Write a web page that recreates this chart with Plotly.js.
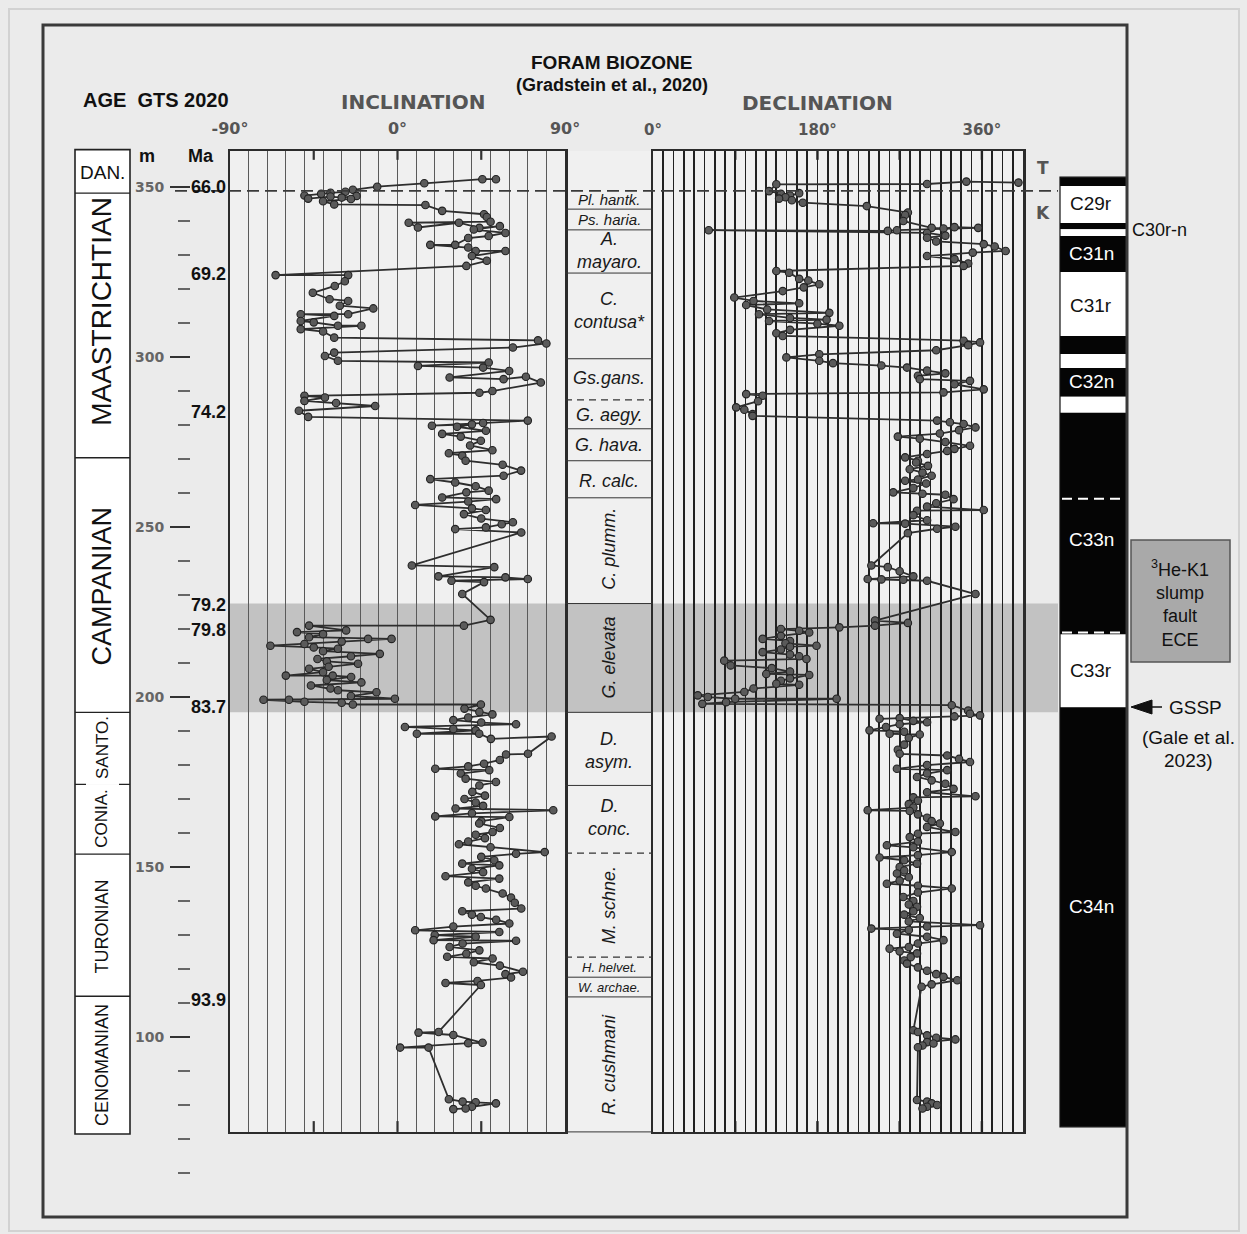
<!DOCTYPE html>
<html><head><meta charset="utf-8">
<script src="https://cdn.plot.ly/plotly-3.0.1.min.js"></script>
<style>body{margin:0;background:#ebebeb;}#chart{width:1247px;height:1234px;}</style>
</head><body><div id="chart"></div>
<script>
// ---------------- DATA ----------------
// Inclination: [depth m, inclination deg], in stratigraphic order (top to bottom)
const incPoints = [
[352.3,52.9],[352.3,45.6],[351.1,14.4],[350.1,-10.9],[349.2,-24],[348.6,-28],[348.3,-36],[348.0,-41],[347.5,-50],[346.6,-48],[347.2,-36],[346.9,-30],[347.4,-22],[346.5,-25],[345.8,-40],[344.9,-34],
[344.7,15],[343.0,24],[342.0,46.5],[341.2,48],[339.8,50],[339.5,6],[338.1,11],[339.5,33],[338.0,44],[338.5,55],[337.5,41],[336.5,58],[335.6,49],[335.0,38],[333.0,31],[333.0,17.6],[332.2,38],[331.2,42],[331.2,58],[329.7,40],[328.3,48],[326.8,37],
[324.1,-65.5],[324.1,-26.5],[322.3,-28.3],[320.9,-33.7],[318.9,-45.5],[317.0,-36.5],[316.5,-26.5],[315.1,-31],[314.3,-13],[312.6,-26.5],[312.6,-52],[312.1,-34],[310.6,-52],[310.2,-45],[309.2,-32],[309.2,-19.4],[308.2,-52],[307.5,-40],[305.7,-34],
[304.9,75.5],[304.0,80],[302.8,62],[301.3,-34],[300.3,-39],[298.9,-32],[298.4,49],[297.4,11],[296.9,46],[295.9,60],[294.0,28],[293.5,57],[294.2,69],[292.5,77],[290.0,51],[289.5,44],
[288.6,-50],[288.1,-39],[287.1,-50],[286.5,-33],[285.6,-12],[284.2,-53],[282.4,-48],
[281.3,70],[280.6,46],[279.8,18.5],[280.2,40],[279.5,32],[278.3,47.5],[277.4,24],[276.6,34],[275.4,44.8],[274.0,39],[272.6,51],[271.7,27.6],[271.0,34.8],[269.5,36.6],[268.3,56.5],[266.6,66.4],[265.1,57],[264.1,17.6],[263.1,31],[262.0,42],[260.7,49],[260.2,37],[258.7,24],[258.2,53],[257.5,38],[256.5,9.5],[255.5,40],[255.0,47.5],[253.8,35.7],[252.5,45],[251.4,62],[250.8,56],[249.9,47.5],[249.4,31],[248.4,66.5],
[238.7,7.7],[238.2,52],[235.5,22],[235.2,58],[234.7,70],[234.2,29],[233.8,46.5],[230.3,34.8],[222.7,50],[221.0,35.7],
[221.0,-47.5],[219.6,-27.6],[219.1,-54],[218.5,-40],[217.6,-47.5],[217.1,-15.8],[217.1,-3.2],[216.3,-30],[215.6,-50],[215.1,-68.3],[214.6,-45],[214.2,-32],[213.5,-40],[212.7,-9.5],[212.0,-25],[211.2,-43],[210.5,-38],[209.8,-21.2],[208.9,-37],[208.3,-47.5],[207.3,-40],[206.3,-60],[206.3,-34.8],[205.9,-24.9],[205.0,-38],[204.3,-19.4],[203.4,-46.5],[202.5,-36],[202.0,-32],[201.4,-11.3],[200.3,-25],[199.5,-1.4],[199.2,-58.3],[199.2,-72],[198.6,-50],[198.3,-30],[197.8,-24],
[197.8,44.8],[196.6,36],[195.6,44],[194.9,51],[194.0,38],[193.2,30],[192.5,45],[192.0,63.7],[191.2,4],[190.6,30],[190.2,42],[189.2,10.4],[189.2,43.9],[187.7,50.2],[188.4,82.8],
[183.3,70.1],[183.1,58.3],[181.5,55],[180.4,46.5],[179.6,38],[178.9,20.3],[178.5,49.3],[177.5,34],[176.0,36.6],[175.0,52.9],[174.0,44],[172.1,40.2],[171.0,47],[170.0,36],[169.0,42],[168.0,46],[167.2,31.2],[166.7,83.7],[165.8,40],[164.9,20.3],[164.7,60.1],[163.5,45],[162.8,43.9],[161.5,55],[160.3,51.1],[159.5,42],[158.5,47],[157.5,38],[156.7,33],[155.8,50],[154.4,79.1],[153.9,63.7],[153.0,45],[152.0,52],[151.0,34.8],[150.5,54.7],[149.5,40],[148.5,46],[147.3,25.8],[146.6,54.7],[145.5,38],[144.5,42],[143.7,47.5],[142.2,56.5],[141.0,61],[139.5,63],[137.8,66.5],[137.0,34.8],[136.0,40],[135.3,44.8],[134.5,53],[133.4,60.1],[132.5,30],[131.4,9.5],[130.9,54.7],[130.0,20],[129.5,42],[128.5,19.4],[128.3,63.7],[127.5,35],[126.5,28],[125.5,44],[124.5,37],[123.6,26.7],[123.1,51.1],[122.0,41],[121.0,55],[119.2,67.4],[118.5,58],[117.5,61],[116.5,43],[115.9,25.8],[115.3,44.8],
[101.5,22.1],[101.3,11.3],[100.6,30],[98.3,45.7],[98.2,38],[96.9,1.4],[96.9,16.7],
[81.7,27.6],[81.0,35],[80.8,42],[80.5,52.9],[79.5,40],[79.0,36.6],[78.8,30]
];
// Declination: [depth m, declination deg]
const decPoints = [
[351.3,400],[351.6,343],[350.9,300],[350.8,135],[348.8,127],[348.0,140],[347.5,150],[348.2,160],[347.0,145],[346.6,138],[346.1,152],[345.4,164],[344.4,234],[342.5,279],[341.8,276],[340.0,274],[338.0,305],[337.8,318],[338.2,330],[338.0,356],[337.3,267],[337.1,257],[337.3,61],[336.5,300],[335.7,320],[335.1,300],[334.0,310],[333.2,362],[332.5,374],[331.2,386],[330.7,350],[329.7,300],[328.8,330],[327.5,345],[326.8,340],
[325.3,135],[324.8,149],[323.0,160],[322.5,170],[321.4,182],[320.5,165],[319.4,142],[317.5,89],[316.5,110],[315.8,160],[315.3,102],[314.0,125],[313.0,193],[312.6,116],[311.5,150],[311.0,190],[310.6,127],[309.8,180],[309.2,204],[308.0,150],[307.0,135],[306.2,142],
[304.8,340],[304.3,358],[303.5,345],[302.0,310],[300.8,182],[299.9,146],[298.9,182],[298.2,197],[297.5,250],[296.9,278],[296.0,300],[295.2,320],[294.5,290],[293.5,292],[293.0,347],[292.0,330],[290.5,362],[289.6,318],
[289.1,102],[288.6,120],[287.0,115],[285.2,91],[284.5,100],[283.2,109],[282.7,109],
[281.3,311],[280.8,325],[280.3,340],[279.3,353],[278.5,335],[277.5,314],[276.6,268],[276.0,292],[275.0,320],[273.9,347],[273.0,330],[272.4,322],[271.5,300],[270.5,276],[269.5,290],[269.0,288],[268.0,301],[267.0,281],[266.0,295],[265.1,305],[264.0,290],[263.6,276],[262.8,299],[261.5,285],[260.2,263],[259.8,295],[259.5,320],[258.2,329],[257.0,310],[256.0,300],[255.0,362],[254.8,289],[253.5,285],[252.0,300],[251.1,241],[251.0,276],[250.1,331],[249.5,311],[248.2,279],
[238.7,239],[238.2,257],[237.0,270],[235.5,285],[234.7,235],[234.6,250],[234.5,274],[234.2,300],[230.3,353],[222.5,243],[221.8,279],[221.0,243],
[220.5,204],[220.0,140],[219.5,160],[219.0,171],[218.0,140],[217.1,120],[216.5,150],[215.8,145],[215.1,179],[214.8,150],[214.0,140],[213.2,120],[212.5,150],[212.0,160],[211.2,168],[210.7,78],[209.3,85],[208.5,130],[207.5,150],[206.8,124],[206.5,171],[205.5,150],[204.8,140],[203.9,135],[203.6,160],[202.5,110],[201.5,100],[200.5,49],[200.0,60],[199.5,90],[199.5,201],[198.5,80],[198.0,54],
[197.6,327],[196.0,345],[195.1,347],[194.6,358],[194.3,330],[193.6,248],[193.8,270],[193.0,285],[192.6,300],[192.0,270],[191.2,255],[190.2,237],[189.8,275],[189.2,259],[189.0,292],[188.0,280],[186.0,275],[184.5,268],[183.3,270],[182.8,322],[181.8,335],[180.9,347],[180.0,300],[178.9,267],[178.5,322],[177.5,300],[176.5,289],[175.5,305],[174.5,320],[173.0,329],[172.0,300],[170.8,353],[170.5,285],[169.5,290],[168.5,280],[167.5,285],[166.7,235],[166.5,281],[165.5,290],[164.5,300],[163.5,305],[162.8,314],[161.8,300],[160.3,331],[159.8,290],[158.8,281],[157.5,290],[156.4,256],[155.8,285],[154.4,327],[153.5,290],[152.8,248],[152.0,275],[151.0,289],[150.0,270],[149.0,275],[148.1,267],[147.0,280],[146.0,270],[145.1,256],[144.5,290],[143.7,327],[142.5,290],[141.2,274],[140.0,285],[139.0,280],[138.3,289],[137.0,285],[136.0,275],[135.0,292],[134.0,280],[132.9,358],[132.5,300],[131.9,239],[131.5,280],[130.4,267],[129.5,300],[128.5,318],[127.5,290],[126.5,280],[126.0,259],[125.2,270],[124.6,289],[123.5,282],[122.5,275],[121.6,278],[120.5,290],[119.5,300],[118.5,310],[117.7,318],[116.7,333],[115.5,305],[114.8,294],
[102.0,285],[101.5,290],[100.5,300],[99.8,310],[99.3,331],[98.5,300],[98.1,307],[97.5,295],[97.0,290],
[81.5,289],[81.0,300],[80.5,305],[80.0,311],[79.5,300],[79.0,295]
];

// Depth axis ticks (m)
const depthTickVals = [100,150,200,250,300,350];
const depthTickText = ['100','150','200','250','300','350'];

// Age labels (Ma) and their depths (m)
const maLabels = ['66.0','69.2','74.2','79.2','79.8','83.7','93.9'];
const maDepths = [350.0,324.4,283.9,227.2,219.6,197.0,110.9];

// Stages
const stageNames = ['DAN.','MAASTRICHTIAN','CAMPANIAN','SANTO.','CONIA.','TURONIAN','CENOMANIAN'];
const stageTops  = [361.0,348.2,270.4,195.5,174.3,153.8,112.0];
const stageBases = [348.2,270.4,195.5,174.3,153.8,112.0,71.5];
const stageLabelDepths = [354.2,313.3,232.5,185.0,164.2,132.5,91.8];
const stageFontSizes = [19,28,27,17,17,18,18];
const stageDashedBase = [false,false,false,true,false,false,false];

// Foram biozones
const zoneNames = ['Pl. hantk.','Ps. haria.','A.<br>mayaro.','C.<br>contusa*','Gs.gans.','G. aegy.','G. hava.','R. calc.','C. plumm.','G. elevata','D.<br>asym.','D.<br>conc.','M. schne.','H. helvet.','W. archae.','R. cushmani'];
const zoneLabelDepths = [346.2,340.6,331.2,313.6,293.9,283.0,274.2,263.6,243.6,211.6,184.3,164.6,138.8,120.6,114.7,91.8];
const zoneRotated = [false,false,false,false,false,false,false,false,true,true,false,false,true,false,false,true];
const zoneFontSizes = [15,15,18,18,18,18,18,18,18,18,18,18,18,13,13,18];
const zoneBounds = [343.5,337.4,324.7,299.5,287.4,278.9,269.5,258.6,227.5,195.5,174.0,154.1,123.5,117.6,111.8,72.1];
const zoneBoundDashed = [false,false,false,false,true,false,false,false,false,false,false,true,true,false,false,false];
const elevataTop = 227.5, elevataBase = 195.5;
const ktBoundary = 348.9;

// Magnetochrons (1 = normal/black, 0 = reversed/white)
const chronTops  = [352.9,350.3,339.4,337.6,335.6,325.0,306.2,300.9,296.8,288.3,283.6,218.4,197.0];
const chronBases = [350.3,339.4,337.6,335.6,325.0,306.2,300.9,296.8,288.3,283.6,218.4,197.0,73.6];
const chronNormal = [1,0,1,0,1,0,1,0,1,0,1,0,1];
const chronLabels = ['C29r','C31n','C31r','C32n','C33n','C33r','C34n'];
const chronLabelDepths = [345.3,330.6,315.3,292.7,246.3,207.8,138.5];
const chronLabelDark = [0,1,0,1,1,0,1];
const chronDashes = [258.3,219.0];

// ---------------- GEOMETRY ----------------
const W = 1247, H = 1234;
const PX_PER_M = 3.4, TOP_M = 360.6, TOP_PX = 151, BOTTOM_M = 72.1;
const mPx = m => TOP_PX + (TOP_M - m) * PX_PER_M;
const X = x => x / W;
const Y = y => 1 - y / H;
const M = m => Y(mPx(m));
const INC_L = 230, INC_R = 565, DEC_L = 653, DEC_R = 1023;
const COL_L = 1060, COL_R = 1127;

const FONT = 'Liberation Sans, Arial, sans-serif';
const GFONT = 'DejaVu Sans, sans-serif';

const shapes = [];
const anns = [];
function rect(x0,y0,x1,y1,o){shapes.push(Object.assign({type:'rect',xref:'paper',yref:'paper',x0,y0,x1,y1},o));}
function ln(x0,y0,x1,y1,o){shapes.push(Object.assign({type:'line',xref:'paper',yref:'paper',x0,y0,x1,y1},o));}
function txt(text,x,y,size,o){anns.push(Object.assign({text,x:X(x),y:Y(y),xref:'paper',yref:'paper',showarrow:false,xanchor:'center',yanchor:'middle',font:{family:FONT,size,color:'#111'}},o||{}));}

// page border
rect(X(9),Y(1231),X(1239),Y(9),{line:{color:'#d2d2d2',width:2},fillcolor:'rgba(0,0,0,0)',layer:'below'});
// panel backgrounds
rect(X(INC_L),M(BOTTOM_M),X(DEC_R),M(TOP_M),{fillcolor:'#f0f0f0',line:{width:0},layer:'below'});
// G. elevata band
rect(X(INC_L),M(elevataBase),X(COL_L-2),M(elevataTop),{fillcolor:'#c2c2c2',line:{width:0},layer:'below'});

// stage column
stageNames.forEach((s,i)=>{
  rect(X(75),M(stageBases[i]),X(130),M(stageTops[i]),{fillcolor:'#ffffff',line:{width:0},layer:'below'});
});
rect(X(75),M(stageBases[stageBases.length-1]),X(130),M(stageTops[0]),{fillcolor:'rgba(0,0,0,0)',line:{color:'#222',width:1.6}});
stageNames.forEach((s,i)=>{
  if(i<stageNames.length-1) ln(X(75),M(stageBases[i]),X(130),M(stageBases[i]),{line:{color:'#222',width:1.4,dash:stageDashedBase[i]?'11px,33px':'solid'}});
  const rot = i>0;
  txt(s,102,mPx(stageLabelDepths[i]),stageFontSizes[i],{textangle:rot?-90:0,font:{family:FONT,size:stageFontSizes[i],color:'#111'}});
});

// biozone boundaries & labels
zoneBounds.forEach((b,i)=>{
  ln(X(INC_R),M(b),X(DEC_L),M(b),{line:{color:'#333',width:zoneBoundDashed[i]?1.3:1,dash:zoneBoundDashed[i]?'7px,5px':'solid'}});
});
zoneNames.forEach((z,i)=>{
  txt('<i>'+z+'</i>',609,mPx(zoneLabelDepths[i]),zoneFontSizes[i],{textangle:zoneRotated[i]?-90:0,font:{family:FONT,size:zoneFontSizes[i],color:'#1a1a1a'}});
});

// K/T boundary
ln(X(175),M(ktBoundary),X(COL_L-2),M(ktBoundary),{line:{color:'#3a3a3a',width:1.8,dash:'12px,6px'}});

// magnetochron column
chronTops.forEach((t,i)=>{
  rect(X(COL_L),M(chronBases[i]),X(COL_R),M(t),{fillcolor:chronNormal[i]?'#050505':'#ffffff',line:{width:0}});
});
rect(X(COL_L),M(chronBases[chronBases.length-1]),X(COL_R),M(chronTops[0]),{fillcolor:'rgba(0,0,0,0)',line:{color:'#111',width:1.2}});
chronDashes.forEach(d=>{
  ln(X(COL_L+2),M(d),X(COL_R-2),M(d),{line:{color:'#ffffff',width:2,dash:'10px,6px'}});
});
chronLabels.forEach((c,i)=>{
  txt(c,1091,mPx(chronLabelDepths[i]),19,{font:{family:FONT,size:19,color:chronLabelDark[i]?'#ffffff':'#111'}});
});
txt('C30r-n',1130,mPx(337.4),18,{xanchor:'left'});

// inclination / declination tick marks (inside, top & bottom)
[-45,0,45].forEach(v=>{
  shapes.push({type:'line',xref:'x',yref:'y domain',x0:v,x1:v,y0:1,y1:0.991,line:{color:'#333',width:2.2}});
  shapes.push({type:'line',xref:'x',yref:'y domain',x0:v,x1:v,y0:0,y1:0.011,line:{color:'#333',width:2.2}});
});
[90,180,270,360].forEach(v=>{
  shapes.push({type:'line',xref:'x2',yref:'y2 domain',x0:v,x1:v,y0:1,y1:0.991,line:{color:'#222',width:2.4}});
  shapes.push({type:'line',xref:'x2',yref:'y2 domain',x0:v,x1:v,y0:0,y1:0.011,line:{color:'#222',width:2.4}});
});

// slump box
rect(X(1131),Y(662),X(1230),Y(540),{fillcolor:'#a9a9a9',line:{color:'#555',width:1.5}});
txt('<sup>3</sup>He-K1<br>slump<br>fault<br>ECE',1180,603,18);
// GSSP arrow
shapes.push({type:'path',xref:'paper',yref:'paper',
  path:`M ${X(1131)},${Y(707)} L ${X(1152)},${Y(700)} L ${X(1152)},${Y(714)} Z`,
  fillcolor:'#111',line:{color:'#111',width:1}});
ln(X(1150),Y(707),X(1162),Y(707),{line:{color:'#111',width:1.5}});
txt('GSSP',1167,708,19,{xanchor:'left'});
txt('(Gale et al.',1188,737,19);
txt('2023)',1188,760,19);

// outer frame
rect(X(43),Y(1217),X(COL_R),Y(25),{fillcolor:'rgba(0,0,0,0)',line:{color:'#3a3a3a',width:3}});

// header texts
txt('AGE\u00a0\u00a0GTS 2020',156,100,20,{font:{family:FONT,size:20,color:'#111',weight:'bold'}});
txt('FORAM BIOZONE',612,62,19,{font:{family:FONT,size:19,color:'#111',weight:'bold'}});
txt('(Gradstein et al., 2020)',612,85,18,{font:{family:FONT,size:18,color:'#111',weight:'bold'}});
txt('INCLINATION',413,102,20,{font:{family:GFONT,size:20,color:'#555',weight:'bold'}});
txt('DECLINATION',817,103,20,{font:{family:GFONT,size:20,color:'#555',weight:'bold'}});
txt('m',147,156,18,{font:{family:FONT,size:18,color:'#111',weight:'bold'}});
txt('Ma',201,156,18,{font:{family:FONT,size:18,color:'#111',weight:'bold'}});
txt('T',1043,168,17,{font:{family:GFONT,size:17,color:'#555',weight:'bold'}});
txt('K',1043,213,17,{font:{family:GFONT,size:17,color:'#555',weight:'bold'}});
maLabels.forEach((l,i)=>{
  txt(l,208,mPx(maDepths[i]),18,{font:{family:FONT,size:18,color:'#111',weight:'bold'}});
});

// ---------------- TRACES ----------------
const markerStyle = {size:7.5,color:'#5a5a5a',line:{color:'#222',width:1.1}};
const lineStyle = {color:'#2e2e2e',width:1.8};
const traces = [
  {x:incPoints.map(p=>p[1]),y:incPoints.map(p=>p[0]),xaxis:'x',yaxis:'y',type:'scatter',mode:'lines+markers',line:lineStyle,marker:markerStyle,hoverinfo:'skip'},
  {x:decPoints.map(p=>p[1]),y:decPoints.map(p=>p[0]),xaxis:'x2',yaxis:'y2',type:'scatter',mode:'lines+markers',line:lineStyle,marker:markerStyle,hoverinfo:'skip'},
  {x:[0.5],y:[depthTickVals[0]],xaxis:'x4',yaxis:'y3',type:'scatter',mode:'markers',marker:{opacity:0},hoverinfo:'skip'}
];

function seq(a,b,s){const r=[];for(let v=a;v<=b+1e-9;v+=s)r.push(+v.toFixed(3));return r;}
const incGrid = seq(-90,90,10);
const decGrid = seq(0,405,11.25);
const incLab = {'-90':'-90°','0':'0°','90':'90°'};
const decLab = {'0':'0°','180':'180°','360':'360°'};

const axFrame = {showline:true,linecolor:'#2b2b2b',linewidth:2.5,mirror:true,zeroline:false};
const layout = {
  width:W,height:H,margin:{l:0,r:0,t:0,b:0},
  paper_bgcolor:'#ebebeb',plot_bgcolor:'rgba(0,0,0,0)',showlegend:false,
  font:{family:FONT},
  xaxis:Object.assign({},axFrame,{domain:[X(INC_L),X(INC_R)],range:[-90,90],side:'top',anchor:'y',
    tickmode:'array',tickvals:incGrid,ticktext:incGrid.map(v=>incLab[String(v)]||''),ticks:'',tickangle:0,
    showgrid:true,gridcolor:'#5a5a5a',gridwidth:1,ticklabelstandoff:8,
    tickfont:{family:GFONT,size:16,color:'#555',weight:'bold'}}),
  yaxis:Object.assign({},axFrame,{domain:[M(BOTTOM_M),M(TOP_M)],range:[BOTTOM_M,TOP_M],anchor:'x',
    showticklabels:false,ticks:'',showgrid:false}),
  xaxis2:Object.assign({},axFrame,{domain:[X(DEC_L),X(DEC_R)],range:[0,405],side:'top',anchor:'y2',
    tickmode:'array',tickvals:decGrid,ticktext:decGrid.map(v=>decLab[String(v)]||''),ticks:'',tickangle:0,
    showgrid:true,gridcolor:'#202020',gridwidth:1.7,ticklabelstandoff:8,
    tickfont:{family:GFONT,size:15,color:'#555',weight:'bold'}}),
  yaxis2:Object.assign({},axFrame,{domain:[M(BOTTOM_M),M(TOP_M)],range:[BOTTOM_M,TOP_M],anchor:'x2',
    showticklabels:false,ticks:'',showgrid:false}),
  xaxis4:{domain:[0,0.01],range:[0,1],anchor:'y3',visible:false},
  yaxis3:{anchor:'free',position:X(190),side:'left',domain:[M(59.5),M(352)],range:[59.5,352],
    tickmode:'array',tickvals:depthTickVals,ticktext:depthTickText,ticks:'outside',ticklen:20,tickwidth:2,tickcolor:'#333',
    showline:false,showgrid:false,zeroline:false,ticklabelstandoff:3,
    minor:{tick0:0,dtick:10,ticks:'outside',ticklen:12,tickwidth:1.6,tickcolor:'#666',showgrid:false},
    tickfont:{family:GFONT,size:14,color:'#666',weight:'bold'}},
  shapes:shapes,annotations:anns
};
Plotly.newPlot('chart',traces,layout,{staticPlot:true,displayModeBar:false});
</script></body></html>
